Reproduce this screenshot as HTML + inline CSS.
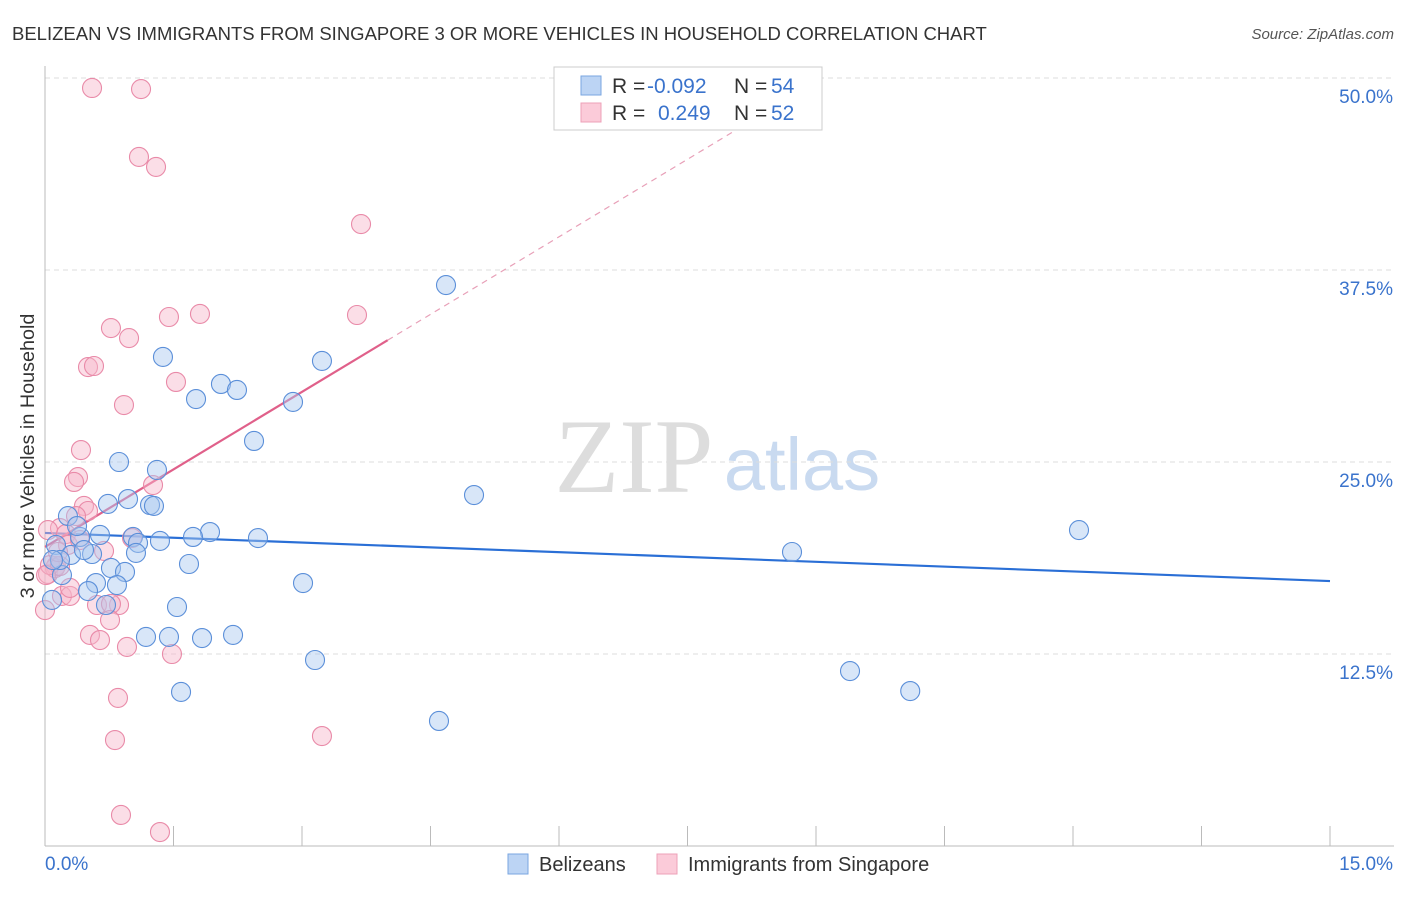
<!DOCTYPE html>
<html><head><meta charset="utf-8"><style>
body{margin:0;background:#fff;font-family:"Liberation Sans",sans-serif;}
svg text{font-family:"Liberation Sans",sans-serif;}
</style></head><body>
<svg id="chart" width="1406" height="892" xmlns="http://www.w3.org/2000/svg">
<text x="12" y="40" font-size="18.5" fill="#333">BELIZEAN VS IMMIGRANTS FROM SINGAPORE 3 OR MORE VEHICLES IN HOUSEHOLD CORRELATION CHART</text>
<text x="1394" y="39" font-size="15" fill="#555" text-anchor="end" font-style="italic">Source: ZipAtlas.com</text>
<text x="634" y="492" font-size="106" fill="#ddd" text-anchor="middle" style="font-family:'Liberation Serif',serif">ZIP</text>
<text x="802" y="490" font-size="74" fill="#c9daf0" text-anchor="middle">atlas</text>
<g id="grid"></g><g id="axes"></g><g id="lines"></g><g id="pts"></g>
<g>
<rect x="554" y="67" width="268" height="63" fill="#fff" stroke="#ccc"/>
<rect x="581" y="76" width="20" height="19" fill="#bcd4f4" stroke="#7aa6e0"/>
<rect x="581" y="103" width="20" height="19" fill="#fbcbd9" stroke="#eea0b8"/>
<text x="612" y="93" font-size="21" fill="#333">R = </text><text x="647" y="93" font-size="21" fill="#3a73cc">-0.092</text>
<text x="734" y="93" font-size="21" fill="#333">N = </text><text x="771" y="93" font-size="21" fill="#3a73cc">54</text>
<text x="612" y="120" font-size="21" fill="#333">R = </text><text x="658" y="120" font-size="21" fill="#3a73cc">0.249</text>
<text x="734" y="120" font-size="21" fill="#333">N = </text><text x="771" y="120" font-size="21" fill="#3a73cc">52</text>
</g>
<g>
<rect x="508" y="854" width="20" height="20" fill="#bcd4f4" stroke="#7aa6e0"/>
<text x="539" y="871" font-size="20" fill="#333">Belizeans</text>
<rect x="657" y="854" width="20" height="20" fill="#fbcbd9" stroke="#eea0b8"/>
<text x="688" y="871" font-size="20" fill="#333">Immigrants from Singapore</text>
</g>
<text transform="translate(34,456) rotate(-90)" font-size="19.8" fill="#333" text-anchor="middle">3 or more Vehicles in Household</text>
</svg>
<script>
const blueX=[4.681,1.377,3.233,2.054,2.241,1.763,2.895,2.440,0.864,1.307,5.008,0.969,0.735,1.226,1.272,12.07,1.926,0.642,1.027,1.728,1.342,2.486,1.086,0.409,0.268,0.374,0.128,0.304,0.549,1.062,8.720,0.770,1.681,0.934,0.198,0.595,3.012,0.840,0.502,0.712,1.541,0.082,1.179,1.447,1.833,2.195,3.152,9.397,10.10,1.588,4.599,0.455,0.175,0.093];
const blueY=[36.52,31.84,31.58,30.08,29.69,29.10,28.91,26.37,25.00,24.48,22.85,22.59,22.27,22.20,22.14,20.57,20.44,20.25,20.12,20.12,19.86,20.05,19.73,20.12,21.48,20.83,19.60,18.95,19.01,19.08,19.14,18.10,18.36,17.84,17.64,17.12,17.12,16.99,16.60,15.69,15.56,16.02,13.61,13.61,13.54,13.74,12.11,11.39,10.09,10.03,8.14,19.27,18.62,18.62];
const pinkX=[0.549,1.121,1.097,1.296,3.689,1.809,1.447,0.770,3.642,0.981,0.502,0.572,1.529,0.922,0.420,0.385,0.339,1.261,0.455,0.502,0.362,0.175,0.035,0.245,0.689,1.016,0.268,0.035,0.128,0.0,0.198,0.292,0.607,0.864,0.770,0.759,0.525,0.642,1.482,0.957,0.852,0.817,3.233,0.887,1.342,0.117,0.058,0.175,0.012,0.152,0.292,0.409];
const pinkY=[49.35,49.28,44.86,44.21,40.49,34.64,34.44,33.72,34.57,33.07,31.18,31.25,30.21,28.71,25.78,24.02,23.70,23.50,22.14,21.81,21.48,20.70,20.57,20.31,19.21,20.05,19.60,17.71,18.23,15.36,16.28,16.28,15.69,15.69,15.76,14.71,13.74,13.41,12.50,12.96,9.64,6.90,7.16,2.02,0.91,18.10,18.29,18.23,17.64,19.14,16.80,19.92];
const yTicks=[12.5,25.0,37.5,50.0];
const xTickVals=[0,1.5,3,4.5,6,7.5,9,10.5,12,13.5,15];
const blueTrend=[20.38,17.25];
const pinkTrend=[19.47,3.365];
const NS="http://www.w3.org/2000/svg";
const X=v=>45+v/15*1285, Y=v=>846-v/50*768;
function mk(t,a,p){const e=document.createElementNS(NS,t);for(const k in a)e.setAttribute(k,a[k]);document.getElementById(p).appendChild(e);return e;}
yTicks.forEach(v=>{
 const l=mk('line',{x1:45,x2:1394,y1:Y(v),y2:Y(v),stroke:'#ddd','stroke-dasharray':'5,4'},'grid');
 
 
 const t=mk('text',{x:1393,y:Y(v)+25,'font-size':19,fill:'#3a73cc','text-anchor':'end'},'grid');
 t.textContent=v.toFixed(1)+'%';
 
 
});
const ax=mk('line',{x1:45,x2:45,y1:66,y2:846,stroke:'#bbb'},'axes');


const bx=mk('line',{x1:45,x2:1394,y1:846,y2:846,stroke:'#bbb'},'axes');


xTickVals.forEach(v=>{
 const t=mk('line',{x1:X(v),x2:X(v),y1:826,y2:846,stroke:'#bbb'},'axes');
 
 
});
[[0,45,'start'],[15,1393,'end']].forEach(([v,x,a])=>{
 const t=mk('text',{x:x,y:870,'font-size':19,fill:'#3a73cc','text-anchor':a},'axes');
 t.textContent=v.toFixed(1)+'%';
 
 
});
function dot(x,y,f,s,n){const c=mk('circle',{cx:X(x),cy:Y(y),r:9.5,fill:f,'fill-opacity':0.45,stroke:s,'stroke-width':1.1},'pts');
 
 }
pinkX.forEach((x,i)=>dot(x,pinkY[i],'#f7b6ca','#e98aa8','singapore-point'));
blueX.forEach((x,i)=>dot(x,blueY[i],'#a9c8f0','#5b8fd9','belizean-point'));
const bl=mk('line',{x1:X(0),y1:Y(blueTrend[0]),x2:X(15),y2:Y(blueTrend[1]),stroke:'#2a6fd6','stroke-width':2.2},'lines');


const pe=4.0;
const pl=mk('line',{x1:X(0),y1:Y(pinkTrend[0]),x2:X(pe),y2:Y(pinkTrend[0]+pinkTrend[1]*pe),stroke:'#e0608a','stroke-width':2.2},'lines');


const xe=(50-pinkTrend[0])/pinkTrend[1];
const pd=mk('line',{x1:X(pe),y1:Y(pinkTrend[0]+pinkTrend[1]*pe),x2:X(xe),y2:Y(50),stroke:'#e8a0b8','stroke-width':1.2,'stroke-dasharray':'6,5'},'lines');


</script>
</body></html>
